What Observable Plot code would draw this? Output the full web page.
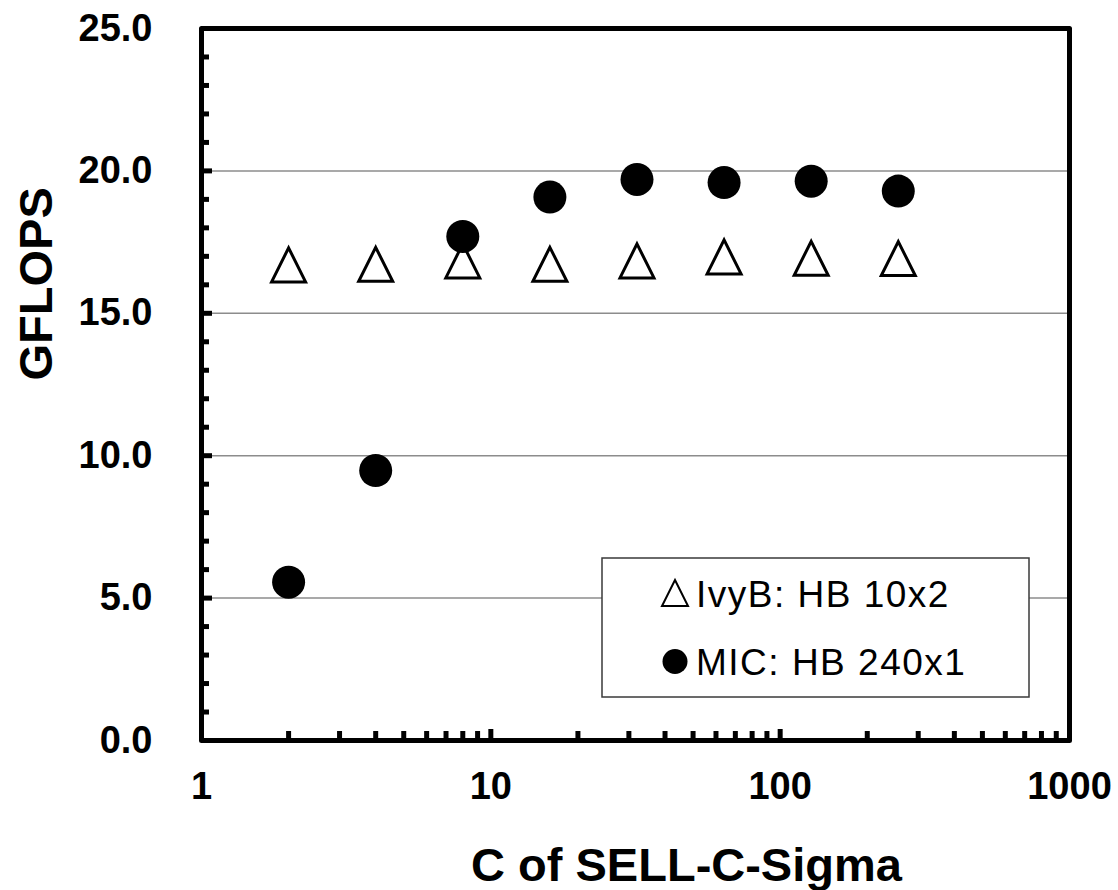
<!DOCTYPE html>
<html>
<head>
<meta charset="utf-8">
<script src="https://cdn.jsdelivr.net/npm/d3@7"></script>
<script src="https://cdn.jsdelivr.net/npm/@observablehq/plot@0.6"></script>
<style>
  html, body { margin: 0; padding: 0; background: #fff; }
  #chart { width: 1118px; height: 890px; }
</style>
</head>
<body>
<div id="chart"></div>
<script>
// ---- Data ----
const cValues = [2, 4, 8, 16, 32, 64, 128, 256];
const ivyB = [16.70, 16.72, 16.84, 16.72, 16.84, 16.98, 16.93, 16.92];
const mic  = [5.56, 9.48, 17.70, 19.08, 19.70, 19.59, 19.64, 19.29];
const seriesNames = ["IvyB: HB 10x2", "MIC: HB 240x1"];
const xTickLabels = [1, 10, 100, 1000];
const yTickLabels = [0, 5, 10, 15, 20, 25];
const yGrid = [5, 10, 15, 20];
const yMinor = [1,2,3,4,6,7,8,9,11,12,13,14,16,17,18,19,21,22,23,24];
const xMinor = [2,3,4,5,6,7,8,9,20,30,40,50,60,70,80,90,200,300,400,500,600,700,800,900];
const xMajorInner = [10, 100];

const ivyRows = cValues.map((c, i) => ({c, v: ivyB[i]}));
const micRows = cValues.map((c, i) => ({c, v: mic[i]}));

// Excel-like triangle marker (isosceles, centred in its box)
const triangle = {
  draw(ctx, size) {
    const r = Math.sqrt(size / Math.PI);
    ctx.moveTo(0, -r);
    ctx.lineTo(r, r);
    ctx.lineTo(-r, r);
    ctx.closePath();
  }
};

const W = 1118, H = 890;
const mL = 201, mR = 49, mT = 28, mB = 150;
const fw = W - mL - mR, fh = H - mT - mB;
const FONT = "'Liberation Sans', Arial, Helvetica, sans-serif";

const chart = Plot.plot({
  width: W,
  height: H,
  marginLeft: mL,
  marginRight: mR,
  marginTop: mT,
  marginBottom: mB,
  style: {fontFamily: FONT, fontWeight: "bold", color: "black", background: "white"},
  x: {type: "log", domain: [1, 1000]},
  y: {domain: [0, 25]},
  marks: [
    Plot.ruleY(yGrid, {stroke: "#8c8c8c", strokeWidth: 1.5}),
    // minor & major inward ticks
    Plot.tickY(yMinor, {y: d => d, stroke: "black", strokeWidth: 5, insetRight: fw - 8}),
    Plot.tickY(yGrid, {y: d => d, stroke: "black", strokeWidth: 5, insetRight: fw - 11}),
    Plot.tickX(xMinor, {x: d => d, stroke: "black", strokeWidth: 5, insetTop: fh - 9}),
    Plot.tickX(xMajorInner, {x: d => d, stroke: "black", strokeWidth: 5, insetTop: fh - 11}),
    Plot.axisY({ticks: yTickLabels, tickFormat: d => d.toFixed(1), tickSize: 0, tickPadding: 49, fontSize: 38, label: null}),
    Plot.axisX({ticks: xTickLabels, tickFormat: d => String(d), tickSize: 0, tickPadding: 32, fontSize: 38, label: null}),
    Plot.frame({stroke: "black", strokeWidth: 5, strokeLinejoin: "round"}),
    Plot.dot(ivyRows, {x: "c", y: "v", symbol: triangle, r: 17, fill: "white", stroke: "black", strokeWidth: 3}),
    Plot.dot(micRows, {x: "c", y: "v", r: 16.5, fill: "black", stroke: "none"}),
    Plot.text(["GFLOPS"], {frameAnchor: "left", rotate: -90, dx: -165, dy: -4, fontSize: 47, fontWeight: "bold", lineAnchor: "middle"}),
    Plot.text(["C of SELL-C-Sigma"], {frameAnchor: "bottom", dx: 51, dy: 125, fontSize: 47, fontWeight: "bold", lineAnchor: "middle"})
  ]
});

document.getElementById("chart").appendChild(chart);

// ---- Legend (layout box inside the plot area) ----
const svg = d3.select(chart);
const lg = svg.append("g").attr("class", "legend").attr("text-anchor", "start");
lg.append("rect")
  .attr("x", 602).attr("y", 558).attr("width", 427).attr("height", 139)
  .attr("fill", "white").attr("stroke", "#3a3a3a").attr("stroke-width", 1.5);
const symTri = d3.path(); triangle.draw(symTri, 13 * 13 * Math.PI);
lg.append("path").attr("d", symTri.toString())
  .attr("transform", "translate(675,593)")
  .attr("fill", "white").attr("stroke", "black").attr("stroke-width", 2);
lg.append("circle").attr("cx", 675).attr("cy", 661.5).attr("r", 12.5).attr("fill", "black");
[[606.5, seriesNames[0]], [675, seriesNames[1]]].forEach(([y, t]) => {
  lg.append("text").attr("x", 696).attr("y", y)
    .attr("text-anchor", "start")
    .attr("font-family", FONT).attr("font-weight", "normal")
    .attr("font-size", 37).attr("letter-spacing", "1.5px")
    .attr("fill", "black").text(t);
});
</script>
</body>
</html>
